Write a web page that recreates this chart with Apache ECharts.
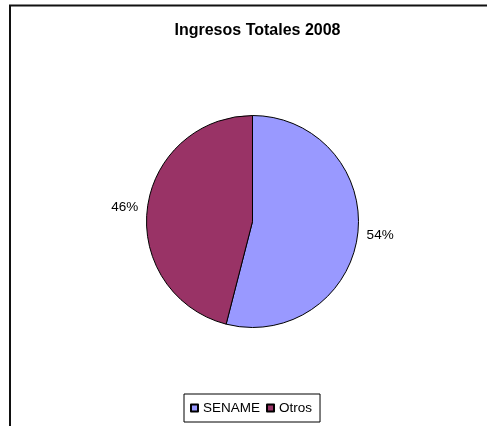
<!DOCTYPE html>
<html>
<head>
<meta charset="utf-8">
<script src="https://cdn.jsdelivr.net/npm/echarts@6/dist/echarts.min.js"></script>
<style>
html,body{margin:0;padding:0;background:#fff;}
#chart{width:487px;height:426px;}
</style>
</head>
<body>
<div id="chart"></div>
<script>
var titleText = 'Ingresos Totales 2008';
var categories = ['SENAME', 'Otros'];
var values = [54, 46];
var colors = ['#9999FF', '#993366'];

var chart = echarts.init(document.getElementById('chart'), null, {renderer: 'canvas'});
var font = 'Arial, "Liberation Sans", sans-serif';
chart.setOption({
  animation: false,
  backgroundColor: '#fff',
  title: {
    text: titleText,
    left: 252.5,
    textAlign: 'center',
    top: 18,
    textStyle: {fontFamily: font, fontSize: 16, fontWeight: 'bold', color: '#000'}
  },
  legend: {
    data: categories,
    left: 184,
    top: 394,
    orient: 'horizontal',
    itemWidth: 7,
    itemHeight: 7,
    itemGap: 6,
    padding: [7, 8, 7, 6],
    borderColor: '#000',
    borderWidth: 1,
    icon: 'rect',
    textStyle: {fontFamily: font, fontSize: 13.5, color: '#000'}
  },
  graphic: [{
    type: 'polyline',
    shape: {points: [[10, 426], [10, 5.5], [487, 5.5]]},
    style: {stroke: '#111', lineWidth: 2, fill: null},
    silent: true
  }],
  series: [{
    type: 'pie',
    center: [252.5, 221.5],
    radius: 106,
    startAngle: 90,
    clockwise: true,
    data: categories.map(function (c, i) {
      return {name: c, value: values[i], itemStyle: {color: colors[i]}};
    }),
    itemStyle: {borderColor: '#000', borderWidth: 1},
    label: {
      show: true,
      position: 'outside',
      formatter: '{d}%',
      fontFamily: font,
      fontSize: 13.5,
      color: '#000',
      distanceToLabelLine: 4
    },
    labelLine: {show: false, length: 5, length2: 0},
    emphasis: {disabled: true}
  }]
});
</script>
</body>
</html>
